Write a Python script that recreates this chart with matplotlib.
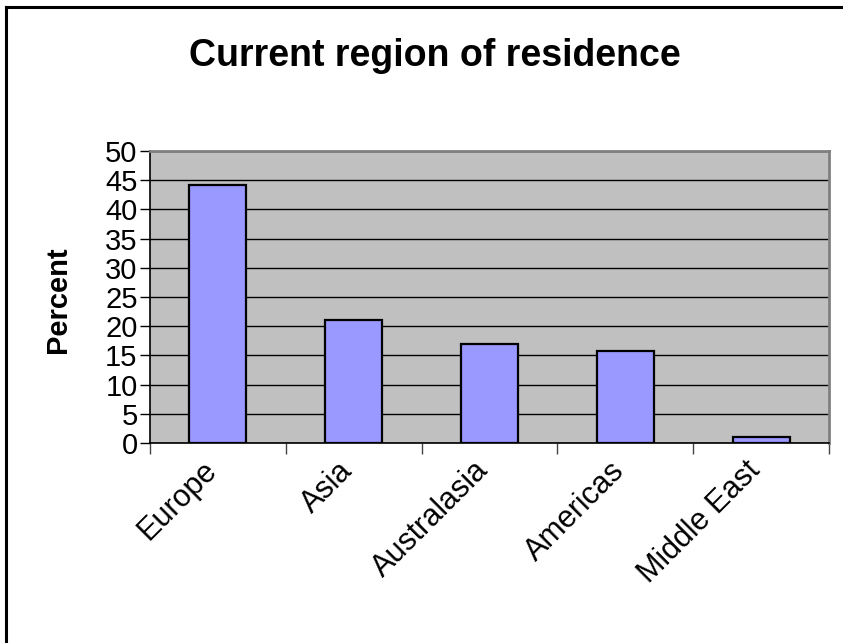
import numpy as np
import matplotlib
matplotlib.use("Agg")
import matplotlib.pyplot as plt
from matplotlib.lines import Line2D

plt.rcParams['font.family'] = ['Liberation Sans', 'DejaVu Sans']

regions = ['Europe', 'Asia', 'Australasia', 'Americas', 'Middle East']
percent = [44.2, 21.0, 17.0, 15.7, 1.1]
yticks = list(range(0, 51, 5))

fig = plt.figure(figsize=(8.43, 6.43), dpi=100)
ax = fig.add_axes([0.178, 0.311, 0.8054, 0.454])

x = np.arange(len(regions))
ax.set_facecolor('#c0c0c0')
ax.bar(x, percent, width=0.42, color='#9999ff', edgecolor='black',
       linewidth=1.6, zorder=3)

ax.set_ylim(0, 50)
ax.set_xlim(-0.5, len(regions) - 0.5)
ax.set_yticks(yticks)
ax.yaxis.grid(True, color='black', linewidth=1.0, zorder=1)
ax.set_axisbelow(True)

# category ticks sit on the boundaries; the slanted labels hang just
# left of each bar centre
ax.set_xticks(np.arange(-0.5, len(regions)), minor=False)
ax.set_xticklabels([])
ax.set_xticks(x - 0.12, minor=True)
ax.set_xticklabels(regions, minor=True, rotation=45, ha='right',
                   rotation_mode='anchor', fontsize=22)
ax.tick_params(axis='x', which='minor', length=0, pad=9)
ax.tick_params(axis='x', which='major', length=8, width=1, color='#444444')
ax.tick_params(axis='y', length=7, width=1, labelsize=21, pad=2)

for s in ['top', 'right']:
    ax.spines[s].set_color('#808080')
    ax.spines[s].set_linewidth(2)
ax.spines['left'].set_linewidth(1.2)
ax.spines['bottom'].set_linewidth(1.2)

ax.set_ylabel('Percent', fontsize=21, fontweight='bold')
ax.yaxis.set_label_coords(-0.115, 0.49)
fig.text(0.516, 0.913, 'Current region of residence', ha='center',
         va='center', fontsize=27, fontweight='bold')

# chart frame (only top and left edges fall inside the image)
fig.add_artist(Line2D([0.0075, 0.0075], [0.0, 0.989], color='black',
                      linewidth=2.2, transform=fig.transFigure))
fig.add_artist(Line2D([0.0075, 1.0], [0.989, 0.989], color='black',
                      linewidth=2.2, transform=fig.transFigure))

fig.savefig('out.png', dpi=100)
